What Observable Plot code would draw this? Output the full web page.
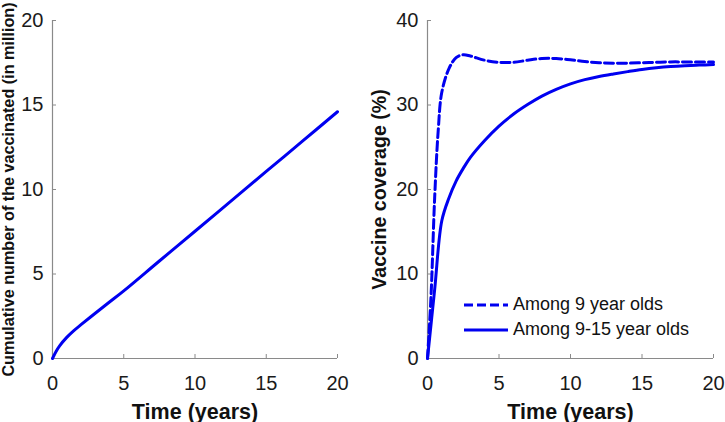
<!DOCTYPE html>
<html>
<head>
<meta charset="utf-8">
<script src="https://cdn.jsdelivr.net/npm/d3@7"></script>
<script src="https://cdn.jsdelivr.net/npm/@observablehq/plot@0.6"></script>
<style>
  html, body { margin: 0; padding: 0; background: #fff; }
  #wrap { position: relative; width: 725px; height: 422px; overflow: hidden; font-family: "Liberation Sans", Arial, sans-serif; }
  #left { position: absolute; left: 0; top: 0; }
  #right { position: absolute; left: 360px; top: 0; }
  g[aria-label="x-axis tick label"] text, g[aria-label="y-axis tick label"] text { font-size: 20px; fill: #1a1a1a; }
  g[aria-label="x-axis label"] text { font-weight: bold; font-size: 21.5px; fill: #111; }
  #left g[aria-label="y-axis label"] text { font-weight: bold; font-size: 16.2px; fill: #111; }
  #right g[aria-label="y-axis label"] text { font-weight: bold; font-size: 19.6px; fill: #111; }
  #legend { position: absolute; left: 463px; top: 292px; font-size: 18px; color: #111; line-height: 25px; }
  #legend div { display: flex; align-items: center; white-space: nowrap; }
  #legend svg { margin-right: 4px; }
</style>
</head>
<body>
<div id="wrap">
  <div id="left"></div>
  <div id="right"></div>
  <div id="legend"></div>
</div>
<script>
// ---- Data ----
const xTicks = [0, 5, 10, 15, 20];
const leftYTicks = [0, 5, 10, 15, 20];
const rightYTicks = [0, 10, 20, 30, 40];

// Left panel: cumulative number vaccinated (millions)
const cumYears = [0, 0.25, 0.5, 1, 1.5, 2, 3, 4, 5, 7.5, 10, 12.5, 15, 17.5, 20];
const cumVacc  = [0, 0.42, 0.75, 1.25, 1.65, 2.0, 2.68, 3.34, 4.0, 5.77, 7.53, 9.3, 11.07, 12.83, 14.6];

// Right panel: vaccine coverage (%) among 9 year olds
const years9 = [0, 0.25, 0.5, 0.75, 1, 1.5, 2, 2.5, 3, 4, 5, 6, 7, 8, 9, 10, 11, 12, 13, 14, 15, 16, 17, 18, 19, 20];
const cov9   = [0, 7.5, 19, 27, 31.5, 34.3, 35.6, 35.95, 35.8, 35.3, 35.05, 35.05, 35.3, 35.5, 35.5, 35.35, 35.15, 35.0, 34.95, 34.95, 35.0, 35.05, 35.1, 35.1, 35.1, 35.1];

// Right panel: vaccine coverage (%) among 9-15 year olds
const years915 = [0, 0.5, 1, 1.5, 2, 2.5, 3, 4, 5, 6, 7, 8, 9, 10, 11, 12, 13, 14, 15, 16, 17, 18, 19, 20];
const cov915   = [0, 8.15, 16.3, 19.0, 21.0, 22.5, 23.8, 25.8, 27.5, 28.9, 30.05, 31.05, 31.85, 32.5, 33.0, 33.38, 33.68, 33.95, 34.2, 34.4, 34.55, 34.65, 34.72, 34.78];

const series = ["Among 9 year olds", "Among 9-15 year olds"];

const leftData = cumYears.map((t, i) => ({t, v: cumVacc[i]}));
const data9 = years9.map((t, i) => ({t, v: cov9[i]}));
const data915 = years915.map((t, i) => ({t, v: cov915[i]}));

const BLUE = "#0000f0";
const AXIS = "#8a8a8a";
const DASH = "9,4";
const style = {fontFamily: '"Liberation Sans", Arial, sans-serif', fontSize: "20px", color: "#1a1a1a", background: "white", overflow: "visible"};

function axes(yTicks, yLabel, yLabelOffset) {
  return [
    Plot.ruleY([0], {stroke: AXIS, strokeWidth: 1.2}),
    Plot.ruleX([0], {stroke: AXIS, strokeWidth: 1.2}),
    Plot.axisX({ticks: xTicks, tickSize: -4, tickPadding: 21, fontSize: 20, stroke: AXIS, label: "Time (years)", labelAnchor: "center", labelOffset: 60, labelArrow: false}),
    Plot.axisY({ticks: yTicks, tickSize: -4, tickPadding: 13, fontSize: 20, stroke: AXIS, label: yLabel, labelAnchor: "center", labelOffset: yLabelOffset, labelArrow: false})
  ];
}

const left = Plot.plot({
  width: 360, height: 422,
  marginLeft: 52, marginRight: 23, marginTop: 20, marginBottom: 64,
  style,
  x: {domain: [0, 20]},
  y: {domain: [0, 20]},
  marks: [
    ...axes(leftYTicks, "Cumulative number of the vaccinated (in million)", 50),
    Plot.line(leftData, {x: "t", y: "v", stroke: BLUE, strokeWidth: 3, curve: "catmull-rom"})
  ]
});
document.getElementById("left").append(left);

const right = Plot.plot({
  width: 365, height: 422,
  marginLeft: 67, marginRight: 12, marginTop: 20, marginBottom: 64,
  style,
  x: {domain: [0, 20]},
  y: {domain: [0, 40]},
  marks: [
    ...axes(rightYTicks, "Vaccine coverage (%)", 55),
    Plot.line(data915, {x: "t", y: "v", stroke: BLUE, strokeWidth: 3, curve: "catmull-rom"}),
    Plot.line(data9, {x: "t", y: "v", stroke: BLUE, strokeWidth: 3, strokeDasharray: DASH, curve: "catmull-rom"})
  ]
});
document.getElementById("right").append(right);

// Legend
const legend = document.getElementById("legend");
series.forEach((name, i) => {
  const row = document.createElement("div");
  const dash = i === 0 ? `stroke-dasharray="${DASH}"` : "";
  row.innerHTML = `<svg width="46" height="6"><line x1="1" y1="3" x2="45" y2="3" stroke="${BLUE}" stroke-width="3" ${dash}/></svg><span>${name}</span>`;
  legend.append(row);
});
</script>
</body>
</html>
